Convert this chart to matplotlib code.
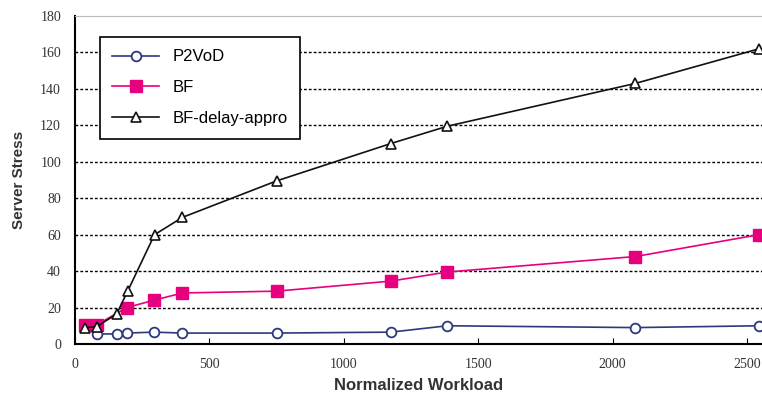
import matplotlib
matplotlib.use("Agg")
import matplotlib.pyplot as plt

# valores
p2vod_x = [81, 155, 193, 293, 400, 750, 1175, 1385, 2085, 2545]
p2vod_y = [5.5, 5.5, 6, 6.5, 6, 6, 6.5, 10, 9, 10]

bf_x = [37, 81, 193, 293, 400, 750, 1175, 1385, 2085, 2545]
bf_y = [10.5, 10.5, 20, 24, 28, 29, 34.5, 39.5, 48, 60]

bfd_x = [37, 81, 155, 196, 296, 400, 750, 1175, 1385, 2085, 2545]
bfd_y = [9, 9.5, 16.5, 29, 60, 69.5, 89.5, 110, 119.5, 143, 162]

xticks = [0, 500, 1000, 1500, 2000, 2500]
yticks = list(range(0, 181, 20))

fig = plt.figure(figsize=(7.62, 3.98), dpi=100)
ax = fig.add_axes([0.0984, 0.1357, 0.9016, 0.8241])

ax.plot(p2vod_x, p2vod_y, color="#2b3a7a", lw=1.2, marker="o", ms=7,
        mfc="white", mec="#2b3a7a", mew=1.3, label="P2VoD", zorder=3)
ax.plot(bf_x, bf_y, color="#e6007e", lw=1.2, marker="s", ms=8,
        mfc="#e6007e", mec="#e6007e", label="BF", zorder=3)
ax.plot(bfd_x, bfd_y, color="#111111", lw=1.2, marker="^", ms=7.5,
        mfc="white", mec="#111111", mew=1.2, label="BF-delay-appro", zorder=4)

ax.set_xlim(0, 2556)
ax.set_ylim(0, 180)
ax.set_xticks(xticks)
ax.set_yticks(yticks)
ax.tick_params(axis="x", direction="in", length=4, labelsize=10, pad=10,
               labelcolor="#333333")
ax.tick_params(axis="y", direction="out", length=0, labelsize=10, pad=10,
               labelcolor="#333333")
for lab in ax.get_xticklabels() + ax.get_yticklabels():
    lab.set_family("Liberation Serif")

for y in yticks[1:-1]:
    ax.axhline(y, color="black", ls=(0, (2, 1.5)), lw=1.0, zorder=1)

ax.spines["right"].set_visible(False)
ax.spines["top"].set_color("#bbbbbb")
ax.spines["left"].set_linewidth(1.5)
ax.spines["bottom"].set_linewidth(1.5)

ax.set_xlabel("Normalized Workload", fontsize=12, fontweight="bold",
              family="Liberation Sans", color="#333333", labelpad=5)
ax.set_ylabel("Server Stress", fontsize=11, fontweight="bold",
              family="Liberation Sans", color="#333333", labelpad=10)

leg = ax.legend(loc="upper left", bbox_to_anchor=(0.036, 0.936),
                borderaxespad=0, fancybox=False, framealpha=1,
                edgecolor="black", prop={"family": "Liberation Sans", "size": 12},
                handlelength=2.8, labelspacing=0.95, borderpad=0.75)
leg.get_frame().set_linewidth(1.2)

fig.savefig("out.png", dpi=100)
